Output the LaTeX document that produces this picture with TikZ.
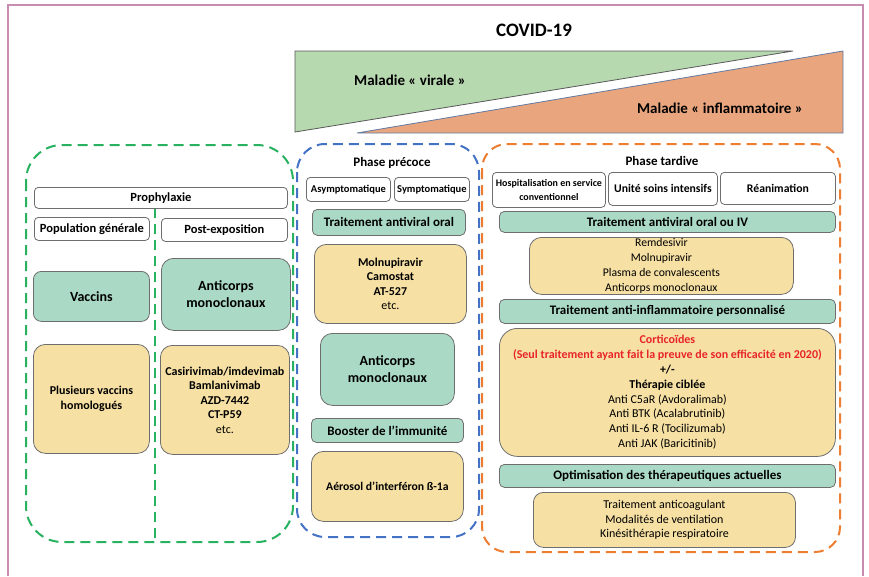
\documentclass[tikz,border=0pt]{standalone}
\usepackage{fontspec}
\setmainfont{Carlito}
\definecolor{tealf}{RGB}{170,218,198}
\definecolor{yelf}{RGB}{246,224,164}
\definecolor{trig}{RGB}{183,217,176}
\definecolor{trio}{RGB}{233,166,126}
\definecolor{dgreen}{RGB}{40,178,96}
\definecolor{dblue}{RGB}{68,114,196}
\definecolor{dorange}{RGB}{237,125,49}
\definecolor{framec}{RGB}{199,140,175}
\definecolor{bordc}{RGB}{110,110,110}
\definecolor{cred}{RGB}{232,36,42}
\tikzset{
  box/.style={draw=bordc, line width=0.8pt, rectangle, anchor=north west, inner sep=1pt, align=center},
  wbox/.style={box, fill=white, rounded corners=4pt, font=\bfseries\fontsize{12.5}{14}\selectfont},
  wsbox/.style={box, fill=white, rounded corners=4pt, font=\bfseries\fontsize{10.5}{14}\selectfont},
  tbox/.style={box, fill=tealf, rounded corners=5pt, font=\bfseries\fontsize{13}{15}\selectfont},
  tbbox/.style={box, fill=tealf, rounded corners=10pt, font=\bfseries\fontsize{14}{17}\selectfont},
  ybox/.style={box, fill=yelf, rounded corners=12pt, font=\fontsize{11.7}{14.8}\selectfont},
  ybbox/.style={box, fill=yelf, rounded corners=12pt, font=\bfseries\fontsize{12}{14.5}\selectfont},
  dashg/.style={draw=dgreen, line width=2pt, dash pattern=on 10pt off 6pt},
  dashb/.style={draw=dblue, line width=2pt, dash pattern=on 10pt off 6pt},
  dasho/.style={draw=dorange, line width=2pt, dash pattern=on 10pt off 6pt},
  head/.style={font=\bfseries\fontsize{13}{15}\selectfont},
  trilabel/.style={font=\bfseries\fontsize{15}{17}\selectfont},
}
\begin{document}
\begin{tikzpicture}[x=1pt,y=-1pt]
\useasboundingbox (0,0) rectangle (869,576);
% frame
\draw[framec, line width=1.5pt] (8,576) -- (8,5) -- (863,5) -- (863,576);
% title and triangles
\node[font=\bfseries\fontsize{19}{21}\selectfont] (covid) at (534,30) {COVID-19};
\filldraw[fill=trig, draw=gray!70!black, line width=0.8pt] (295,51) -- (793,51) -- (295,132) -- cycle;
\filldraw[fill=trio, draw=dblue!50!gray, line width=0.8pt] (843,51) -- (843,133) -- (357,133) -- cycle;
\node[trilabel] (viral) at (410,80) {Maladie « virale »};
\node[trilabel] (infl) at (720,108) {Maladie « inflammatoire »};
% containers
\draw[dashg, rounded corners=36pt] (26,145) rectangle (293,542);
\draw[dashg] (155,208) -- (155,542);
\draw[dashb, rounded corners=28pt] (297,144) rectangle (479,537);
\draw[dasho, rounded corners=25pt] (482,144) rectangle (840,552);
% left panel
\node[wbox, minimum width=253pt, minimum height=21pt] (proph) at (34,187) {Prophylaxie};
\node[wbox, minimum width=115pt, minimum height=23pt] (popgen) at (34,217) {Population générale};
\node[wbox, minimum width=126pt, minimum height=23pt] (postexp) at (161,218) {Post-exposition};
\node[tbbox, rounded corners=8pt, minimum width=116pt, minimum height=50pt] (vacc) at (33,271) {Vaccins};
\node[tbbox, rounded corners=12pt, minimum width=129pt, minimum height=72pt] (ac1) at (161,258) {Anticorps\\monoclonaux};
\node[ybbox, minimum width=116pt, minimum height=109pt] (plus) at (33,344) {Plusieurs vaccins\\homologués};
\node[ybbox, minimum width=129pt, minimum height=109pt] (casi) at (160,345) {Casirivimab/imdevimab\\Bamlanivimab\\AZD-7442\\CT-P59\\\mdseries etc.};
% middle panel
\node[head] (precoce) at (392,163) {Phase précoce};
\node[wsbox, minimum width=84pt, minimum height=24pt] (asym) at (306,177) {Asymptomatique};
\node[wsbox, minimum width=75pt, minimum height=24pt] (sym) at (394,177) {Symptomatique};
\node[tbox, minimum width=153pt, minimum height=26pt] (tao) at (312,209) {Traitement antiviral oral};
\node[ybbox, minimum width=152pt, minimum height=79pt] (moln) at (314,244) {Molnupiravir\\Camostat\\AT-527\\\mdseries etc.};
\node[tbbox, rounded corners=12pt, minimum width=134pt, minimum height=72pt] (ac2) at (320,333) {Anticorps\\monoclonaux};
\node[tbox, minimum width=152pt, minimum height=24pt] (boost) at (311,418) {Booster de l’immunité};
\node[ybbox, font=\bfseries\fontsize{11.7}{14.5}\selectfont, minimum width=152pt, minimum height=70pt] (aero) at (311,451) {Aérosol d’interféron ß-1a};
% right panel
\node[head] (tardive) at (662,161) {Phase tardive};
\node[wsbox, font=\bfseries\fontsize{10}{14}\selectfont, minimum width=113pt, minimum height=35pt] (hosp) at (492,172) {Hospitalisation en service\\conventionnel};
\node[wsbox, font=\bfseries\fontsize{11.7}{14}\selectfont, minimum width=109pt, minimum height=33pt] (usi) at (608,172) {Unité soins intensifs};
\node[wsbox, font=\bfseries\fontsize{11.7}{14}\selectfont, minimum width=115pt, minimum height=32pt] (rea) at (720,172) {Réanimation};
\node[tbox, minimum width=336pt, minimum height=21pt] (taoiv) at (499,211) {Traitement antiviral oral ou IV};
\node[ybox, minimum width=264pt, minimum height=57pt] (remd) at (529,237) {Remdesivir\\Molnupiravir\\Plasma de convalescents\\Anticorps monoclonaux};
\node[tbox, minimum width=336pt, minimum height=24pt] (tai) at (499,299) {Traitement anti-inflammatoire personnalisé};
\node[ybox, font=\fontsize{12}{14.8}\selectfont, rounded corners=18pt, minimum width=336pt, minimum height=128pt] (cort) at (499,328) {\textcolor{cred}{\textbf{Corticoïdes}}\\\textcolor{cred}{\textbf{(Seul traitement ayant fait la preuve de son efficacité en 2020)}}\\\textbf{+/-}\\\textbf{Thérapie ciblée}\\Anti C5aR (Avdoralimab)\\Anti BTK (Acalabrutinib)\\Anti IL-6 R (Tocilizumab)\\Anti JAK (Baricitinib)};
\node[tbox, minimum width=336pt, minimum height=23pt] (optim) at (499,464) {Optimisation des thérapeutiques actuelles};
\node[ybox, font=\fontsize{12}{14.8}\selectfont, rounded corners=10pt, minimum width=262pt, minimum height=55pt] (coag) at (533,492) {Traitement anticoagulant\\Modalités de ventilation\\Kinésithérapie respiratoire};
\end{tikzpicture}
\end{document}
